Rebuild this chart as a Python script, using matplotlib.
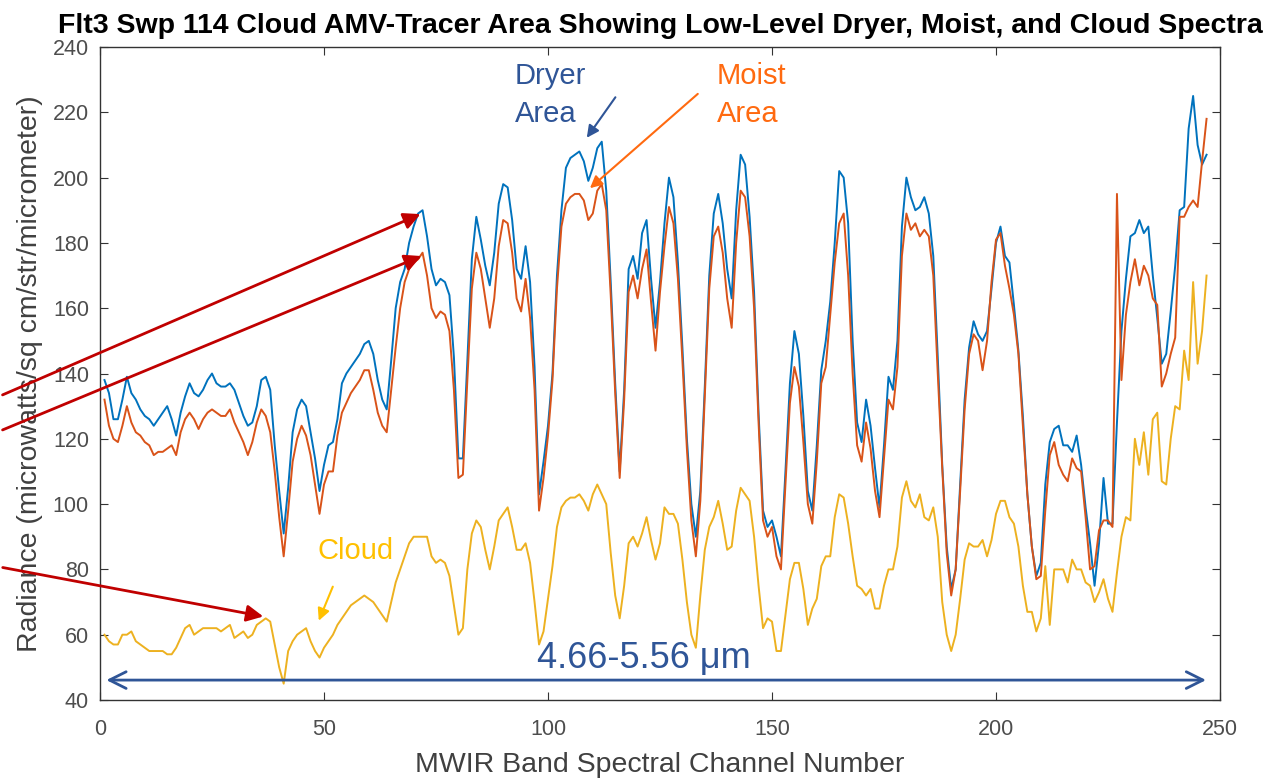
import numpy as np
import matplotlib.pyplot as plt

plt.rcParams['font.family'] = ['Liberation Sans', 'DejaVu Sans']

channels = np.arange(1, 248)

dryer = [138, 134, 126, 126, 132, 139, 134, 132, 129, 127,
         126, 124, 126, 128, 130, 126, 121, 128, 133, 137,
         134, 133, 135, 138, 140, 137, 136, 136, 137, 135,
         131, 127, 124, 125, 130, 138, 139, 135, 118, 104,
         91, 105, 122, 129, 132, 130, 122, 114, 104, 112,
         118, 119, 126, 137, 140, 142, 144, 146, 149, 150,
         146, 138, 132, 129, 144, 160, 168, 172, 180, 185,
         189, 190, 182, 172, 167, 169, 168, 164, 145, 114,
         114, 144, 175, 188, 181, 173, 167, 177, 192, 198,
         197, 187, 172, 169, 179, 168, 142, 103, 113, 124,
         140, 170, 190, 203, 206, 207, 208, 205, 199, 203,
         209, 211, 196, 168, 137, 110, 135, 172, 176, 169,
         183, 187, 169, 154, 168, 186, 200, 194, 174, 148,
         120, 100, 90, 104, 136, 170, 189, 195, 186, 172,
         163, 190, 207, 204, 188, 165, 128, 98, 93, 95,
         90, 84, 110, 137, 153, 146, 127, 104, 98, 118,
         141, 150, 162, 180, 202, 200, 186, 150, 125, 119,
         132, 124, 111, 99, 118, 139, 135, 150, 185, 200,
         194, 190, 191, 194, 189, 176, 145, 112, 87, 74,
         80, 106, 132, 148, 156, 152, 150, 153, 166, 180,
         185, 176, 174, 161, 147, 127, 103, 87, 78, 82,
         106, 119, 123, 124, 118, 118, 116, 121, 112, 99,
         88, 75, 88, 108, 94, 94, 125, 153, 169, 182,
         183, 187, 183, 185, 170, 157, 143, 146, 159, 173,
         190, 191, 215, 225, 210, 204, 207]

moist = [132, 124, 120, 119, 124, 130, 125, 122, 121, 119,
         118, 115, 116, 116, 117, 118, 115, 122, 126, 128,
         126, 123, 126, 128, 129, 128, 127, 127, 129, 125,
         122, 119, 115, 119, 125, 129, 127, 122, 110, 96,
         84, 98, 113, 120, 124, 121, 115, 106, 97, 106,
         110, 110, 121, 128, 131, 134, 136, 138, 141, 141,
         135, 128, 124, 122, 135, 148, 160, 168, 172, 174,
         175, 177, 170, 160, 157, 159, 158, 153, 135, 108,
         109, 138, 166, 177, 172, 163, 154, 163, 179, 187,
         186, 177, 163, 159, 169, 157, 135, 98, 108, 121,
         138, 166, 185, 192, 194, 195, 195, 193, 187, 189,
         196, 198, 190, 164, 134, 108, 132, 165, 170, 163,
         172, 178, 162, 147, 165, 179, 191, 186, 169, 144,
         117, 95, 84, 101, 133, 166, 182, 185, 177, 163,
         154, 180, 196, 194, 182, 160, 125, 95, 90, 93,
         84, 80, 106, 131, 142, 136, 119, 100, 94, 113,
         137, 142, 158, 174, 186, 189, 170, 140, 118, 113,
         125, 117, 104, 96, 114, 132, 129, 142, 176, 189,
         184, 186, 182, 184, 182, 170, 140, 111, 85, 72,
         80, 104, 129, 146, 152, 150, 141, 150, 168, 181,
         183, 173, 166, 158, 146, 124, 103, 87, 77, 78,
         98, 115, 119, 112, 109, 107, 114, 111, 110, 96,
         80, 81, 92, 95, 95, 93, 195, 138, 158, 168,
         175, 167, 173, 170, 163, 161, 136, 140, 146, 151,
         188, 188, 191, 193, 191, 205, 218]

cloud = [60, 58, 57, 57, 60, 60, 61, 58, 57, 56,
         55, 55, 55, 55, 54, 54, 56, 59, 62, 63,
         60, 61, 62, 62, 62, 62, 61, 62, 63, 59,
         60, 61, 59, 60, 63, 64, 65, 64, 57, 50,
         45, 55, 58, 60, 61, 62, 58, 55, 53, 56,
         58, 60, 63, 65, 67, 69, 70, 71, 72, 71,
         70, 68, 66, 64, 70, 76, 80, 84, 88, 90,
         90, 90, 90, 84, 82, 83, 82, 78, 69, 60,
         62, 80, 91, 95, 93, 86, 80, 87, 95, 97,
         99, 93, 86, 86, 88, 82, 70, 57, 61, 71,
         81, 93, 99, 101, 102, 102, 103, 101, 98, 103,
         106, 103, 100, 85, 72, 65, 75, 88, 90, 87,
         91, 96, 89, 83, 88, 99, 97, 97, 94, 83,
         70, 60, 56, 72, 86, 93, 96, 101, 94, 86,
         87, 98, 105, 103, 101, 90, 75, 62, 65, 64,
         55, 55, 66, 77, 82, 82, 74, 63, 68, 71,
         81, 84, 84, 96, 103, 102, 94, 84, 75, 74,
         72, 74, 68, 68, 75, 80, 80, 87, 102, 107,
         101, 99, 103, 96, 95, 99, 90, 70, 60, 55,
         60, 71, 83, 88, 87, 87, 89, 84, 89, 97,
         101, 101, 96, 94, 87, 75, 67, 67, 61, 65,
         81, 63, 80, 80, 80, 76, 83, 80, 80, 76,
         75, 70, 73, 77, 71, 67, 79, 90, 96, 95,
         120, 112, 122, 109, 126, 128, 107, 106, 120, 130,
         129, 147, 138, 168, 143, 153, 170]

x_ticks = [0, 50, 100, 150, 200, 250]
y_ticks = [40, 60, 80, 100, 120, 140, 160, 180, 200, 220, 240]

fig = plt.figure(figsize=(12.75, 7.8), dpi=100)
ax = fig.add_axes([100 / 1275, 80 / 780, 1120 / 1275, 653 / 780])

ax.plot(channels, dryer, color='#0072BD', lw=1.4)
ax.plot(channels, moist, color='#D95319', lw=1.4)
ax.plot(channels, cloud, color='#EDB120', lw=1.4)

ax.set_xlim(0, 250)
ax.set_ylim(40, 240)
ax.set_xticks(x_ticks)
ax.set_yticks(y_ticks)
ax.tick_params(direction='in', top=True, right=True, length=6, width=0.8,
               labelsize=15.5, labelcolor='#4D4D4D', color='#333333')
ax.tick_params(axis='x', pad=14)
ax.tick_params(axis='y', pad=8)
for sp in ax.spines.values():
    sp.set_color('#333333')
    sp.set_linewidth(1.0)

ax.set_title('Flt3 Swp 114 Cloud AMV-Tracer Area Showing Low-Level Dryer, Moist, and Cloud Spectra',
             fontsize=20.5, fontweight='bold', pad=10)
ax.set_xlabel('MWIR Band Spectral Channel Number', fontsize=20.5, color='#404040', labelpad=8)
ax.set_ylabel('Radiance (microwatts/sq cm/str/micrometer)', fontsize=20.5, color='#404040', labelpad=7)

# labels and arrows
dark_blue = '#2F5597'
ax.text(92.6, 235.5, 'Dryer\nArea', color=dark_blue, fontsize=21, ha='left', va='top', linespacing=1.45)
ax.annotate('', xy=(108.3, 211.5), xytext=(115.4, 225.3),
            arrowprops=dict(arrowstyle='-|>', color=dark_blue, lw=1.5, mutation_scale=18))

ax.text(137.7, 235.5, 'Moist\nArea', color='#FF6A10', fontsize=21, ha='left', va='top', linespacing=1.45)
ax.annotate('', xy=(108.9, 196.2), xytext=(133.9, 226.2),
            arrowprops=dict(arrowstyle='-|>', color='#FF6A10', lw=1.5, mutation_scale=18))

ax.text(48.6, 90, 'Cloud', color='#FFC000', fontsize=21, ha='left', va='top')
ax.annotate('', xy=(48.6, 63.5), xytext=(52.2, 75.5),
            arrowprops=dict(arrowstyle='-|>', color='#FFC000', lw=1.5, mutation_scale=18))

ax.annotate('', xy=(0.8, 46.1), xytext=(247.5, 46.1),
            arrowprops=dict(arrowstyle='<->', color=dark_blue, lw=2, mutation_scale=30))
ax.text(121.5, 47.5, '4.66-5.56 μm', color=dark_blue, fontsize=26, ha='center', va='bottom')

# red arrows coming in from the left edge
red = '#C00000'
for start, end in [((0, 384), (423, 567)), ((0, 349), (424, 525)), ((0, 213), (266, 163))]:
    ax.annotate('', xy=end, xycoords='figure pixels', xytext=start, textcoords='figure pixels',
                arrowprops=dict(arrowstyle='-|>', color=red, lw=2, mutation_scale=25),
                annotation_clip=False)

fig.savefig('out.png', dpi=100)
